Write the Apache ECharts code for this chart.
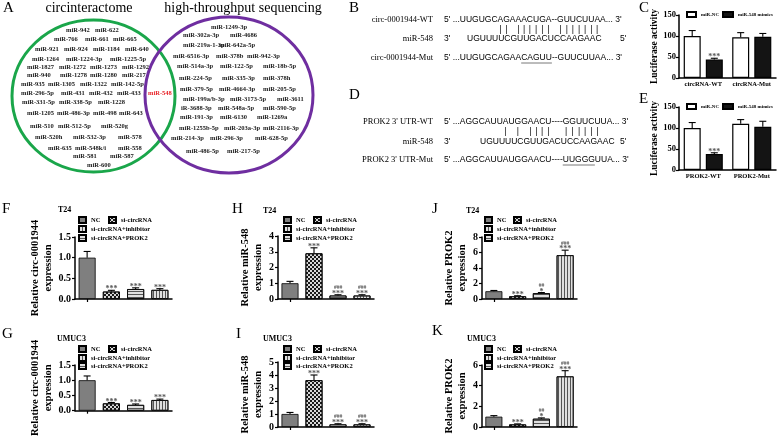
<!DOCTYPE html>
<html>
<head>
<meta charset="utf-8">
<script src="https://cdn.jsdelivr.net/npm/echarts@6/dist/echarts.min.js"></script>
<style>
html,body{margin:0;padding:0;background:#fff;}
#chart{width:778px;height:438px;}
</style>
</head>
<body>
<div id="chart"></div>
<script>
// ================= DATA =================
const groups = ['NC', 'si-circRNA', 'si-circRNA+inhibitor', 'si-circRNA+PROK2'];

const fValues = [1.00, 0.18, 0.24, 0.22];
const fErrors = [0.15, 0.03, 0.03, 0.03];
const fStars  = ['', '***', '***', '***'];
const fHashes = ['', '', '', ''];
const fTicks  = [0, 0.5, 1.0, 1.5];

const gValues = [1.00, 0.24, 0.19, 0.35];
const gErrors = [0.14, 0.03, 0.03, 0.03];
const gStars  = ['', '***', '***', '***'];
const gHashes = ['', '', '', ''];
const gTicks  = [0, 0.5, 1.0, 1.5];

const hValues = [1.00, 2.90, 0.22, 0.22];
const hErrors = [0.12, 0.35, 0.05, 0.05];
const hStars  = ['', '***', '***', '***'];
const hHashes = ['', '', '###', '###'];
const hTicks  = [0, 1, 2, 3, 4];

const iValues = [1.00, 3.60, 0.20, 0.20];
const iErrors = [0.12, 0.40, 0.05, 0.05];
const iStars  = ['', '***', '***', '***'];
const iHashes = ['', '', '###', '###'];
const iTicks  = [0, 1, 2, 3, 4, 5];

const jValues = [1.00, 0.35, 0.75, 5.65];
const jErrors = [0.10, 0.07, 0.08, 0.65];
const jStars  = ['', '***', '*', '***'];
const jHashes = ['', '', '##', '###'];
const jTicks  = [0, 2, 4, 6, 8];

const kValues = [1.00, 0.25, 0.80, 4.90];
const kErrors = [0.10, 0.05, 0.08, 0.55];
const kStars  = ['', '***', '*', '***'];
const kHashes = ['', '', '##', '###'];
const kTicks  = [0, 2, 4, 6];

const lucSeries = ['miR-NC', 'miR-548 mimics'];
const cCategories = ['circRNA-WT', 'circRNA-Mut'];
const cNC = [100, 97];
const cNCErr = [13, 11];
const cMimics = [44, 98];
const cMimicsErr = [3, 8];
const cStars = ['***', ''];
const eCategories = ['PROK2-WT', 'PROK2-Mut'];
const eNC = [100, 110];
const eNCErr = [13, 10];
const eMimics = [38, 103];
const eMimicsErr = [3, 13];
const eStars = ['***', ''];
const lucTicks = [0, 50, 100, 150];

// Venn lists
const vennLeftTitle = 'circinteractome';
const vennRightTitle = 'high-throughput sequencing';
const vennShared = 'miR-548';
const vennLeftRows = [
  ['miR-942', 'miR-622'],
  ['miR-766', 'miR-661', 'miR-665'],
  ['miR-921', 'miR-924', 'miR-1184', 'miR-640'],
  ['miR-1264', 'miR-1224-3p', 'miR-1225-5p'],
  ['miR-1827', 'miR-1272', 'miR-1273', 'miR-1292'],
  ['miR-940', 'miR-1278', 'miR-1280', 'miR-217'],
  ['miR-935', 'miR-1305', 'miR-1322', 'miR-142-5p'],
  ['miR-296-5p', 'miR-431', 'miR-432', 'miR-433'],
  ['miR-331-5p', 'miR-338-5p', 'miR-1228'],
  ['miR-1205', 'miR-486-3p', 'miR-498', 'miR-643'],
  ['miR-510', 'miR-512-5p', 'miR-520g'],
  ['miR-520h', 'miR-532-3p', 'miR-578'],
  ['miR-635', 'miR-548k/i', 'miR-558'],
  ['miR-581', 'miR-587'],
  ['miR-600']
];
const vennRightRows = [
  ['miR-1249-3p'],
  ['miR-302a-3p', 'miR-4686'],
  ['miR-219a-1-3p', 'miR-642a-5p'],
  ['miR-6516-3p', 'miR-378b', 'miR-942-3p'],
  ['miR-514a-3p', 'miR-122-5p', 'miR-18b-5p'],
  ['miR-224-5p', 'miR-335-3p', 'miR-378h'],
  ['miR-379-5p', 'miR-4664-3p', 'miR-205-5p'],
  ['miR-199a/b-3p', 'miR-3173-5p', 'miR-3611'],
  ['iR-3688-3p', 'miR-548a-5p', 'miR-590-5p'],
  ['miR-191-3p', 'miR-6130', 'miR-1269a'],
  ['miR-1255b-5p', 'miR-203a-3p', 'miR-2116-3p'],
  ['miR-214-3p', 'miR-296-3p', 'miR-628-5p'],
  ['miR-486-5p', 'miR-217-5p']
];

// Sequences
const bLabels = ['circ-0001944-WT', 'miR-548', 'circ-0001944-Mut'];
const bWT  = 'UUGUGCAGAAACUGA--GUUCUUAA';
const bMut = 'UUGUGCAGAACAGUU--GUUCUUAA';
const bPairs = [6, 7, 9, 10, 11, 12, 13, 14, 17, 18, 19, 20, 21, 22, 23];
const bMutRange = [10, 15];
const dLabels = ["PROK2 3' UTR-WT", 'miR-548', "PROK2 3' UTR-Mut"];
const dWT  = 'AGGCAUUAUGGAACU----GGUUCUUA';
const dMut = 'AGGCAUUAUGGAACU----UUGGGUUA';
const dPairs = [7, 9, 11, 12, 13, 14, 19, 20, 21, 22, 23, 24];
const dMutRange = [19, 24];
const mir548 = 'UGUUUUCGUUGACUCCAAGAAC';

// ================= LAYOUT / STYLE =================
const SERIF = '"Liberation Serif", "Times New Roman", serif';
const SEQ_FONT = '8.5px "Liberation Sans", Arial, sans-serif';
const LBL_FONT = '8.5px "Liberation Serif", "Times New Roman", serif';
const VENN_FONT = 'bold 6.5px "Liberation Serif", "Times New Roman", serif';

const mctx = document.createElement('canvas').getContext('2d');
function tw(s, font) { mctx.font = font; return mctx.measureText(s).width; }

function txt(x, y, text, font, opts) {
  opts = opts || {};
  const align = opts.align || 'left';
  const va = opts.va || 'middle';
  return {
    type: 'text', x: x, y: y, z: 10, silent: true,
    style: {
      text: text, font: font, fill: opts.fill || '#000',
      align: align, verticalAlign: va, textAlign: align, textVerticalAlign: va
    }
  };
}

const graphics = [];

// Panel letters
const letterFont = '15px "Liberation Serif", "Times New Roman", serif';
[['A', 3, 8], ['B', 349, 8], ['C', 639, 8], ['D', 349, 95], ['E', 639, 99],
 ['F', 2, 209], ['G', 2, 334], ['H', 232, 209], ['I', 236, 334], ['J', 432, 209], ['K', 432, 331]]
  .forEach(function (p) { graphics.push(txt(p[1], p[2], p[0], letterFont)); });

// Venn
graphics.push(txt(89, 8, vennLeftTitle, '14px "Liberation Serif", "Times New Roman", serif', {align: 'center'}));
graphics.push(txt(243, 8, vennRightTitle, '14px "Liberation Serif", "Times New Roman", serif', {align: 'center'}));
graphics.push({type: 'ellipse', shape: {cx: 93.5, cy: 96, rx: 81.5, ry: 76}, style: {fill: 'none', stroke: '#1aa64a', lineWidth: 3}, z: 5});
graphics.push({type: 'ellipse', shape: {cx: 229, cy: 95, rx: 84, ry: 78}, style: {fill: 'none', stroke: '#6f2ea0', lineWidth: 3}, z: 5});
const leftRowY = [30, 39, 49, 59, 67, 75, 84, 93, 102, 113, 126, 137, 148, 156, 165];
const leftRowX = [[66, 95], [54, 85, 113], [35, 64, 93, 125], [32, 66, 110], [27, 59, 90, 122], [27, 60, 90, 122],
  [21, 48, 80, 111], [21, 61, 89, 117], [22, 59, 98], [27, 57, 93, 119], [30, 58, 101], [35, 73, 118], [48, 75, 118], [73, 110], [87]];
vennLeftRows.forEach(function (row, r) {
  row.forEach(function (s, k) { graphics.push(txt(leftRowX[r][k], leftRowY[r], s, VENN_FONT, {fill: '#1a1a1a'})); });
});
const rightRowY = [27, 35, 45, 56, 66, 78, 89, 99, 108, 117, 128, 138, 151];
const rightRowX = [[211], [183, 230], [183, 219], [173, 216, 247], [177, 220, 263], [179, 222, 263], [180, 219, 263],
  [183, 230, 277], [181, 218, 263], [180, 220, 257], [179, 224, 263], [171, 210, 255], [186, 227]];
vennRightRows.forEach(function (row, r) {
  row.forEach(function (s, k) { graphics.push(txt(rightRowX[r][k], rightRowY[r], s, VENN_FONT, {fill: '#1a1a1a'})); });
});
graphics.push(txt(148, 93, vennShared, VENN_FONT, {fill: '#e8262b'}));

// Sequences
function seqBlock(labels, wt, mut, pairs, mutRange, ys, mirStart) {
  const labelX = 433, x0 = 444, pre = "5' ...";
  graphics.push(txt(labelX, ys[0], labels[0], LBL_FONT, {align: 'right'}));
  graphics.push(txt(x0, ys[0], pre + wt + "... 3'", SEQ_FONT));
  pairs.forEach(function (i) {
    const cx = x0 + tw(pre + wt.slice(0, i), SEQ_FONT) + tw(wt[i], SEQ_FONT) / 2;
    graphics.push(txt(cx, ys[1], '|', SEQ_FONT, {align: 'center'}));
  });
  graphics.push(txt(labelX, ys[2], labels[1], LBL_FONT, {align: 'right'}));
  graphics.push(txt(x0, ys[2], "3'", SEQ_FONT));
  graphics.push(txt(mirStart, ys[2], mir548, SEQ_FONT));
  graphics.push(txt(620, ys[2], "5'", SEQ_FONT));
  graphics.push(txt(labelX, ys[3], labels[2], LBL_FONT, {align: 'right'}));
  graphics.push(txt(x0, ys[3], pre + mut + "... 3'", SEQ_FONT));
  const ux1 = x0 + tw(pre + mut.slice(0, mutRange[0]), SEQ_FONT);
  const ux2 = x0 + tw(pre + mut.slice(0, mutRange[1]), SEQ_FONT);
  graphics.push({type: 'line', shape: {x1: ux1, y1: ys[3] + 5, x2: ux2, y2: ys[3] + 5}, style: {stroke: '#555', lineWidth: 0.8}, z: 10});
}
seqBlock(bLabels, bWT, bMut, bPairs, bMutRange, [20, 29.5, 39, 58], 467);
seqBlock(dLabels, dWT, dMut, dPairs, dMutRange, [122, 131.5, 142, 160], 480);

// ================= CHARTS =================
const checker = {symbol: 'rect', symbolSize: 1, dashArrayX: [[1.5, 1.5], [0, 1.5, 1.5, 0]], dashArrayY: [1.5, 0], color: '#1a1a1a'};
const hStripe = {symbol: 'rect', symbolSize: 1, dashArrayX: [8, 0], dashArrayY: [1, 2], color: '#555'};
const vStripe = {symbol: 'rect', symbolSize: 1, dashArrayX: [1, 2], dashArrayY: [8, 0], color: '#555'};
const groupStyles = [
  {color: '#7f7f7f', borderColor: '#000', borderWidth: 0.8},
  {color: '#d8d8d8', borderColor: '#000', borderWidth: 0.8, decal: checker},
  {color: '#e0e0e0', borderColor: '#000', borderWidth: 0.8, decal: hStripe},
  {color: '#e0e0e0', borderColor: '#000', borderWidth: 0.8, decal: vStripe}
];
const legendDecal = [null, checker, vStripe, hStripe];

const panels = [
  {vals: fValues, errs: fErrors, stars: fStars, hashes: fHashes, ticks: fTicks, dec: 1, left: 75, top: 237, width: 97, height: 62,
   name: 'Relative circ-0001944\nexpression', nameGap: 13, cell: 'T24', cellX: 58, cellY: 210, legX: [78, 108], legY: [220, 229, 238]},
  {vals: gValues, errs: gErrors, stars: gStars, hashes: gHashes, ticks: gTicks, dec: 1, left: 75, top: 365, width: 97, height: 62,
   name: 'Relative circ-0001944\nexpression', nameGap: 13, cell: 'UMUC3', cellX: 57, cellY: 339, legX: [78, 108], legY: [349, 358, 366]},
  {vals: hValues, errs: hErrors, stars: hStars, hashes: hHashes, ticks: hTicks, dec: 0, left: 278, top: 236, width: 96, height: 63,
   name: 'Relative miR-548\nexpression', nameGap: 9, cell: 'T24', cellX: 263, cellY: 211, legX: [283, 313], legY: [220, 229, 238]},
  {vals: iValues, errs: iErrors, stars: iStars, hashes: iHashes, ticks: iTicks, dec: 0, left: 278, top: 362, width: 96, height: 65,
   name: 'Relative miR-548\nexpression', nameGap: 9, cell: 'UMUC3', cellX: 263, cellY: 339, legX: [283, 313], legY: [349, 358, 366]},
  {vals: jValues, errs: jErrors, stars: jStars, hashes: jHashes, ticks: jTicks, dec: 0, left: 482, top: 237, width: 95, height: 62,
   name: 'Relative PROK2\nexpression', nameGap: 9, cell: 'T24', cellX: 466, cellY: 211, legX: [484, 513], legY: [220, 229, 238]},
  {vals: kValues, errs: kErrors, stars: kStars, hashes: kHashes, ticks: kTicks, dec: 0, left: 482, top: 365, width: 95, height: 62,
   name: 'Relative PROK2\nexpression', nameGap: 9, cell: 'UMUC3', cellX: 467, cellY: 339, legX: [484, 513], legY: [349, 358, 366]}
];

const grid = [], xAxis = [], yAxis = [], series = [], legend = [];
const axisLineStyle = {color: '#000', width: 1.5};
const tickStyle = {color: '#000', width: 1.2};

function errRenderer(errs, stars, hashes, dx) {
  return function (params, api) {
    const i = params.dataIndex;
    const base = api.coord([api.value(0), api.value(1)]);
    const top = api.coord([api.value(0), api.value(1) + api.value(2)]);
    const x = base[0] + dx;
    const ch = [
      {type: 'line', shape: {x1: x, y1: base[1], x2: x, y2: top[1]}, style: {stroke: '#000', lineWidth: 1.1}},
      {type: 'line', shape: {x1: x - 3.5, y1: top[1], x2: x + 3.5, y2: top[1]}, style: {stroke: '#000', lineWidth: 1.1}}
    ];
    if (stars[i]) ch.push({type: 'text', style: {x: x, y: top[1] + 3, text: stars[i], fill: '#555',
      font: 'bold 8px "Liberation Serif", serif', align: 'center', verticalAlign: 'bottom'}});
    if (hashes[i]) ch.push({type: 'text', style: {x: x, y: top[1] - 4, text: hashes[i], fill: '#555',
      font: 'bold 5.5px "Liberation Serif", serif', align: 'center', verticalAlign: 'bottom'}});
    return {type: 'group', children: ch};
  };
}

panels.forEach(function (p, pi) {
  grid.push({left: p.left, top: p.top, width: p.width, height: p.height, containLabel: false});
  xAxis.push({type: 'category', gridIndex: pi, data: groups,
    axisLine: {lineStyle: axisLineStyle}, axisTick: {show: true, alignWithLabel: true, length: 3, lineStyle: tickStyle},
    axisLabel: {show: false}, splitLine: {show: false}});
  yAxis.push({type: 'value', gridIndex: pi, min: p.ticks[0], max: p.ticks[p.ticks.length - 1], interval: p.ticks[1] - p.ticks[0],
    axisLine: {show: true, lineStyle: axisLineStyle}, axisTick: {show: true, length: 3, lineStyle: tickStyle},
    splitLine: {show: false},
    axisLabel: {fontFamily: SERIF, fontWeight: 'bold', fontSize: 10, color: '#000', margin: 4,
      formatter: (function (d) { return function (v) { return v.toFixed(d); }; })(p.dec)},
    name: p.name, nameLocation: 'middle', nameRotate: 90, nameGap: p.nameGap,
    nameTextStyle: {fontFamily: SERIF, fontWeight: 'bold', fontSize: 10.5, lineHeight: 13, color: '#000'}});
  groups.forEach(function (g, gi) {
    series.push({type: 'bar', name: g, xAxisIndex: pi, yAxisIndex: pi, barWidth: 17, barGap: '-100%',
      itemStyle: groupStyles[gi], silent: true,
      data: p.vals.map(function (v, i) { return i === gi ? v : '-'; })});
  });
  series.push({type: 'custom', xAxisIndex: pi, yAxisIndex: pi, z: 5, silent: true,
    renderItem: errRenderer(p.errs, p.stars, p.hashes, 0),
    data: p.vals.map(function (v, i) { return [i, v, p.errs[i]]; })});
  const legPos = [[p.legX[0], p.legY[0]], [p.legX[1], p.legY[0]], [p.legX[0], p.legY[1]], [p.legX[0], p.legY[2]]];
  groups.forEach(function (g, gi) {
    const is = {};
    if (legendDecal[gi]) is.decal = legendDecal[gi];
    legend.push({data: [g], left: legPos[gi][0], top: legPos[gi][1] - 4, padding: 0, icon: 'rect',
      itemWidth: 7, itemHeight: 6, selectedMode: false, itemStyle: is,
      textStyle: {fontFamily: SERIF, fontWeight: 'bold', fontSize: 6.5, color: '#000', lineHeight: 8}});
  });
  graphics.push(txt(p.cellX, p.cellY, p.cell, 'bold 8px "Liberation Serif", "Times New Roman", serif'));
});

// Luciferase panels C and E
const lucPanels = [
  {cats: cCategories, nc: cNC, ncErr: cNCErr, mim: cMimics, mimErr: cMimicsErr, stars: cStars, top: 15, legY: 14},
  {cats: eCategories, nc: eNC, ncErr: eNCErr, mim: eMimics, mimErr: eMimicsErr, stars: eStars, top: 107, legY: 106}
];
const noMarks = ['', ''];
lucPanels.forEach(function (p) {
  const gi = grid.length;
  grid.push({left: 679, top: p.top, width: 97, height: 63, containLabel: false});
  xAxis.push({type: 'category', gridIndex: gi, data: p.cats,
    axisLine: {lineStyle: axisLineStyle}, axisTick: {show: false},
    axisLabel: {interval: 0, fontFamily: SERIF, fontWeight: 'bold', fontSize: 6.5, color: '#000', margin: 3}});
  yAxis.push({type: 'value', gridIndex: gi, min: lucTicks[0], max: lucTicks[lucTicks.length - 1], interval: lucTicks[1] - lucTicks[0],
    axisLine: {show: true, lineStyle: axisLineStyle}, axisTick: {show: true, length: 3, lineStyle: tickStyle},
    splitLine: {show: false},
    axisLabel: {fontFamily: SERIF, fontWeight: 'bold', fontSize: 8.5, color: '#000', margin: 3},
    name: 'Luciferase activity', nameLocation: 'middle', nameRotate: 90, nameGap: 15,
    nameTextStyle: {fontFamily: SERIF, fontWeight: 'bold', fontSize: 9.5, color: '#000'}});
  series.push({type: 'bar', name: lucSeries[0], xAxisIndex: gi, yAxisIndex: gi, barWidth: 17, barGap: '30%', silent: true,
    itemStyle: {color: '#fff', borderColor: '#000', borderWidth: 1.2}, data: p.nc});
  series.push({type: 'bar', name: lucSeries[1], xAxisIndex: gi, yAxisIndex: gi, barWidth: 17, barGap: '30%', silent: true,
    itemStyle: {color: '#141414', borderColor: '#000', borderWidth: 1.2}, data: p.mim});
  series.push({type: 'custom', xAxisIndex: gi, yAxisIndex: gi, z: 5, silent: true,
    renderItem: errRenderer(p.ncErr, noMarks, noMarks, -11.05),
    data: p.nc.map(function (v, i) { return [i, v, p.ncErr[i]]; })});
  series.push({type: 'custom', xAxisIndex: gi, yAxisIndex: gi, z: 5, silent: true,
    renderItem: errRenderer(p.mimErr, p.stars, noMarks, 11.05),
    data: p.mim.map(function (v, i) { return [i, v, p.mimErr[i]]; })});
  legend.push({data: [lucSeries[0]], left: 686, top: p.legY - 3, padding: 0, icon: 'rect', itemWidth: 9, itemHeight: 5,
    selectedMode: false, textStyle: {fontFamily: SERIF, fontWeight: 'bold', fontSize: 5, color: '#000'}});
  legend.push({data: [lucSeries[1]], left: 722, top: p.legY - 3, padding: 0, icon: 'rect', itemWidth: 10, itemHeight: 5,
    selectedMode: false, textStyle: {fontFamily: SERIF, fontWeight: 'bold', fontSize: 5, color: '#000'}});
});

const chart = echarts.init(document.getElementById('chart'), null, {renderer: 'canvas', width: 778, height: 438});
chart.setOption({
  backgroundColor: '#fff',
  animation: false,
  textStyle: {fontFamily: SERIF},
  grid: grid, xAxis: xAxis, yAxis: yAxis, series: series, legend: legend,
  graphic: {elements: graphics}
});
</script>
</body>
</html>
